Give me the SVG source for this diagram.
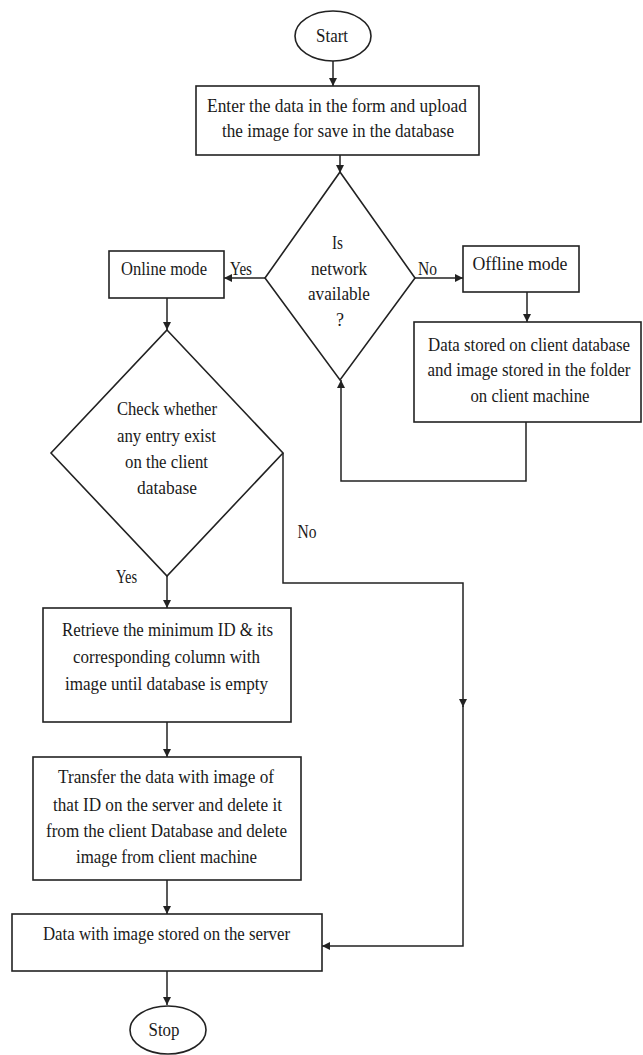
<svg xmlns="http://www.w3.org/2000/svg" width="643" height="1055" viewBox="0 0 643 1055">
<style>
.n{fill:#fff;stroke:#222;stroke-width:1.6}
.c{fill:none;stroke:#222;stroke-width:1.5}
text{font-family:"Liberation Serif","Times New Roman",serif;font-size:18px;fill:#1a1a1a;text-anchor:middle}
</style>
<defs>
<marker id="ah" viewBox="0 0 10 10" refX="10" refY="5" markerWidth="8" markerHeight="8" markerUnits="userSpaceOnUse" orient="auto">
<path d="M0,0 L10,5 L0,10 Z" fill="#222"/>
</marker>
</defs>
<rect width="643" height="1055" fill="#fff"/>
<g id="connectors">
<path class="c" d="M333,61 V86" marker-end="url(#ah)"/>
<path class="c" d="M340,155 V173" marker-end="url(#ah)"/>
<path class="c" d="M265,278 H224" marker-end="url(#ah)"/>
<path class="c" d="M415,278 H463" marker-end="url(#ah)"/>
<path class="c" d="M527,292 V322" marker-end="url(#ah)"/>
<path class="c" d="M526,422 V481 H341 V380" marker-end="url(#ah)"/>
<path class="c" d="M167,298 V330" marker-end="url(#ah)"/>
<path class="c" d="M167,576 V608" marker-end="url(#ah)"/>
<path class="c" d="M283,453 V583 H463 V707" marker-end="url(#ah)"/>
<path class="c" d="M463,706 V946 H322" marker-end="url(#ah)"/>
<path class="c" d="M167,722 V757" marker-end="url(#ah)"/>
<path class="c" d="M167,880 V914" marker-end="url(#ah)"/>
<path class="c" d="M167,971 V1005" marker-end="url(#ah)"/>
<text x="241" y="275" textLength="22" lengthAdjust="spacingAndGlyphs">Yes</text>
<text x="427.5" y="275" textLength="19" lengthAdjust="spacingAndGlyphs">No</text>
<text x="307" y="538" textLength="19" lengthAdjust="spacingAndGlyphs">No</text>
<text x="126.5" y="583" textLength="21" lengthAdjust="spacingAndGlyphs">Yes</text>
</g>
<g id="start">
<ellipse class="n" cx="333" cy="36" rx="38" ry="25"/>
<text x="332" y="42" textLength="32" lengthAdjust="spacingAndGlyphs">Start</text>
</g>
<g id="enter-data">
<rect class="n" x="196" y="86" width="283" height="69"/>
<text x="337" y="112" textLength="260" lengthAdjust="spacingAndGlyphs">Enter the data in the form and upload</text>
<text x="338" y="137" textLength="232" lengthAdjust="spacingAndGlyphs">the image for save in the database</text>
</g>
<g id="network-check">
<polygon class="n" points="340,172 415,278 340,380 265,278"/>
<text x="337.5" y="249" textLength="11" lengthAdjust="spacingAndGlyphs">Is</text>
<text x="339" y="275" textLength="56" lengthAdjust="spacingAndGlyphs">network</text>
<text x="339" y="300" textLength="62" lengthAdjust="spacingAndGlyphs">available</text>
<text x="340" y="326">?</text>
</g>
<g id="online-mode">
<rect class="n" x="109" y="251" width="115" height="47"/>
<text x="164" y="275" textLength="86" lengthAdjust="spacingAndGlyphs">Online mode</text>
</g>
<g id="offline-mode">
<rect class="n" x="463" y="246" width="116" height="46"/>
<text x="520" y="270" textLength="95" lengthAdjust="spacingAndGlyphs">Offline mode</text>
</g>
<g id="client-store">
<rect class="n" x="414" y="322" width="227" height="100"/>
<text x="529" y="351" textLength="202" lengthAdjust="spacingAndGlyphs">Data stored on client database</text>
<text x="529" y="376" textLength="203" lengthAdjust="spacingAndGlyphs">and image stored in the folder</text>
<text x="530" y="402" textLength="119" lengthAdjust="spacingAndGlyphs">on client machine</text>
</g>
<g id="entry-check">
<polygon class="n" points="167,330 283,453 167,576 51,453"/>
<text x="167" y="415" textLength="100" lengthAdjust="spacingAndGlyphs">Check whether</text>
<text x="166.5" y="442" textLength="99" lengthAdjust="spacingAndGlyphs">any entry exist</text>
<text x="166.5" y="468" textLength="83" lengthAdjust="spacingAndGlyphs">on the client</text>
<text x="167" y="494" textLength="60" lengthAdjust="spacingAndGlyphs">database</text>
</g>
<g id="retrieve">
<rect class="n" x="43" y="608" width="248" height="114"/>
<text x="167.5" y="636" textLength="211" lengthAdjust="spacingAndGlyphs">Retrieve the minimum ID &amp; its</text>
<text x="166.5" y="663" textLength="187" lengthAdjust="spacingAndGlyphs">corresponding column with</text>
<text x="166.5" y="690" textLength="203" lengthAdjust="spacingAndGlyphs">image until database is empty</text>
</g>
<g id="transfer">
<rect class="n" x="33" y="757" width="268" height="123"/>
<text x="166" y="783" textLength="216" lengthAdjust="spacingAndGlyphs">Transfer the data with image of</text>
<text x="167.5" y="811" textLength="229" lengthAdjust="spacingAndGlyphs">that ID on the server and delete it</text>
<text x="166.5" y="837" textLength="241" lengthAdjust="spacingAndGlyphs">from the client Database and delete</text>
<text x="166.5" y="863" textLength="181" lengthAdjust="spacingAndGlyphs">image from client machine</text>
</g>
<g id="server-store">
<rect class="n" x="12" y="914" width="310" height="57"/>
<text x="166.5" y="940" textLength="247" lengthAdjust="spacingAndGlyphs">Data with image stored on the server</text>
</g>
<g id="stop">
<ellipse class="n" cx="168" cy="1030" rx="38" ry="24"/>
<text x="164" y="1036" textLength="31" lengthAdjust="spacingAndGlyphs">Stop</text>
</g>
</svg>
